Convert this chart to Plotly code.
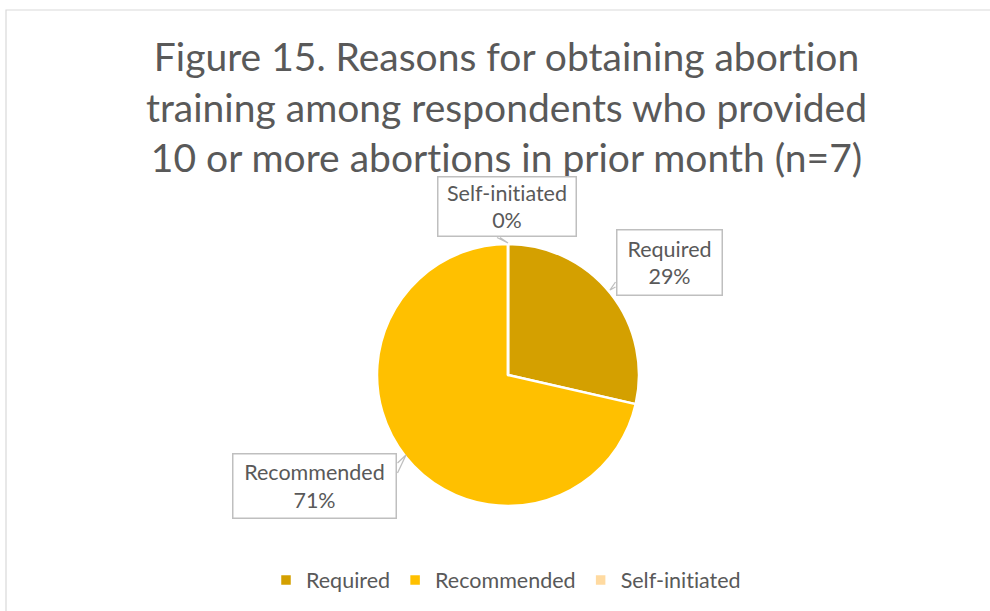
import plotly.graph_objects as go

categories = ["Required", "Recommended", "Self-initiated"]
values = [2, 5, 0]
pct_labels = ["29%", "71%", "0%"]
colors = ["#D4A000", "#FFC000", "#FFDAA0"]
title_lines = ["Figure 15. Reasons for obtaining abortion",
               "training among respondents who provided",
               "10 or more abortions in prior month (n=7)"]

W, H = 990, 611
FONT = "Lato"
TXT = "#595959"


def nolig(s):
    # break the Lato "ti" ligature so glyphs render like the original
    return s.replace("ti", "t\u200ci")


def px(x):
    return x / W


def py(y):
    return 1 - y / H


cx, cy, r = 508, 375, 131

fig = go.Figure(go.Pie(
    labels=[nolig(c) for c in categories],
    values=values,
    marker=dict(colors=colors, line=dict(color="white", width=2.5)),
    sort=False,
    direction="clockwise",
    rotation=0,
    textinfo="none",
    hoverinfo="label+percent",
    domain=dict(x=[px(cx - r), px(cx + r)], y=[py(cy + r), py(cy - r)]),
    showlegend=True,
))

label_boxes = {
    "Self-initiated": (437, 176, 577, 237),
    "Required": (616, 229, 723, 296),
    "Recommended": (232, 453, 397, 519),
}
annotations = []
for cat, pct in zip(categories, pct_labels):
    x0, y0, x1, y1 = label_boxes[cat]
    annotations.append(dict(
        x=px((x0 + x1) / 2), y=py((y0 + y1) / 2), xref="paper", yref="paper",
        xanchor="center", yanchor="middle",
        text=f"{nolig(cat)}<br>{pct}", showarrow=False,
        font=dict(family=FONT, size=21.5, color=TXT),
        bgcolor="white", bordercolor="#BFBFBF", borderwidth=1.5, borderpad=0,
        width=(x1 - x0) - 3, height=(y1 - y0) - 3,
    ))

annotations.insert(0, dict(
    x=px(507), y=py(31), xref="paper", yref="paper",
    xanchor="center", yanchor="top", showarrow=False,
    text="<br>".join(nolig(t) for t in title_lines),
    font=dict(family=FONT, size=39, color=TXT),
))

shapes = [
    dict(type="rect", xref="paper", yref="paper", x0=px(6), y0=py(10), x1=px(1000), y1=py(620),
         line=dict(color="#D9D9D9", width=1.2), fillcolor="rgba(0,0,0,0)", layer="below"),
    dict(type="path", xref="paper", yref="paper",
         path=f"M {px(497)},{py(237.5)} L {px(508)},{py(243)} L {px(500)},{py(237.5)}",
         line=dict(color="#BFBFBF", width=1.3), fillcolor="white"),
    dict(type="path", xref="paper", yref="paper",
         path=f"M {px(615.5)},{py(282)} L {px(610)},{py(290)} L {px(615.5)},{py(287)}",
         line=dict(color="#BFBFBF", width=1.3), fillcolor="white"),
    dict(type="path", xref="paper", yref="paper",
         path=f"M {px(397.5)},{py(473)} L {px(406)},{py(455)} L {px(397.5)},{py(463)}",
         line=dict(color="#BFBFBF", width=1.3), fillcolor="white"),
]

fig.update_layout(
    width=W, height=H,
    margin=dict(l=0, r=0, t=0, b=0),
    paper_bgcolor="white", plot_bgcolor="white",
    annotations=annotations,
    shapes=shapes,
    legend=dict(orientation="h", x=px(506), y=py(580), xanchor="center", yanchor="middle",
                font=dict(family=FONT, size=21.5, color=TXT), itemwidth=30,
                traceorder="normal"),
)

fig.write_html("out.html")
